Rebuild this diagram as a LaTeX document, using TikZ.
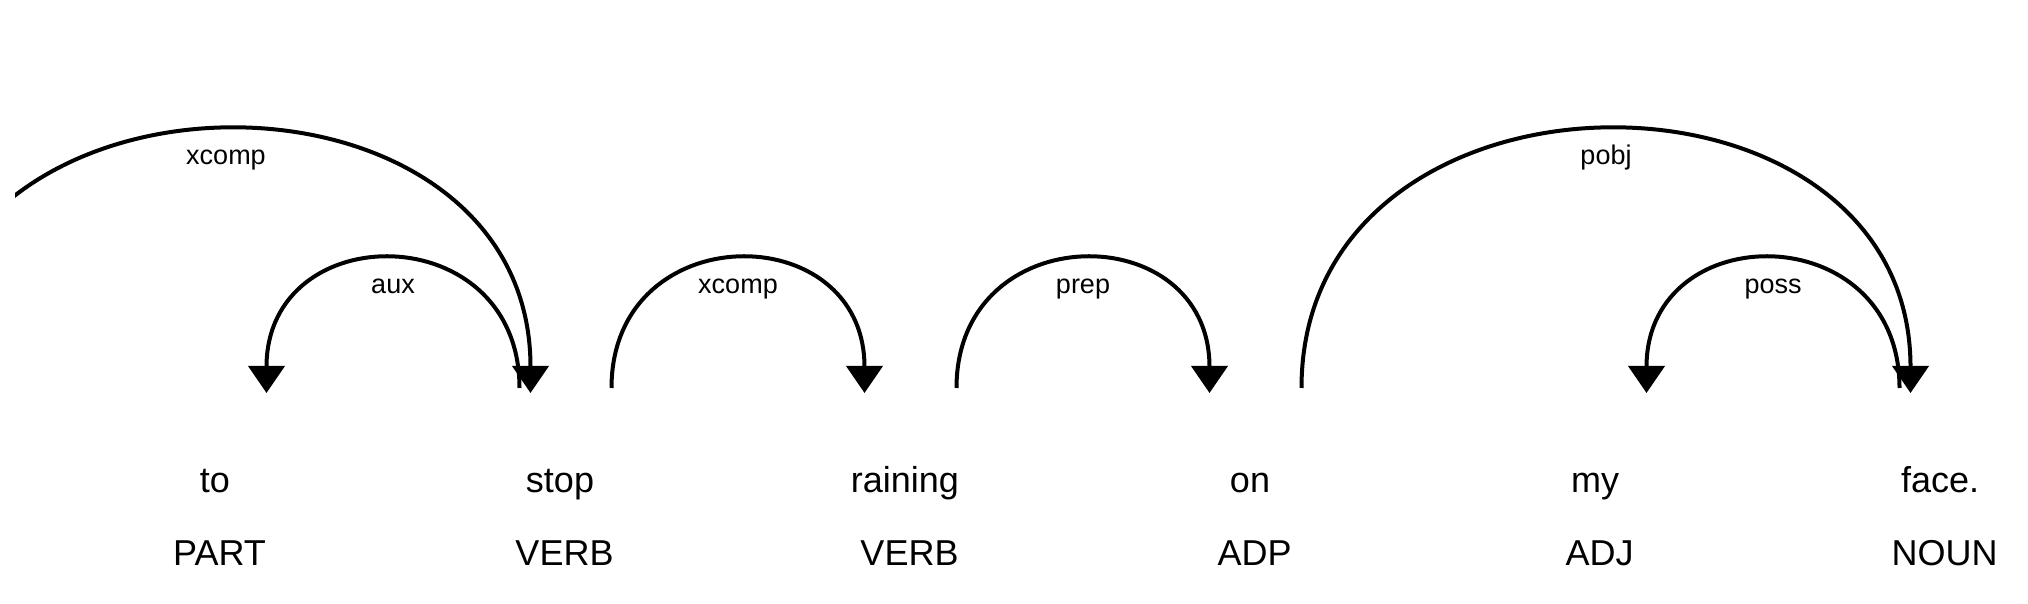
\documentclass[tikz,border=0pt]{standalone}
\usepackage{fontspec}
\setmainfont{Liberation Sans}
\usetikzlibrary{arrows.meta}
\usetikzlibrary{positioning}

\tikzset{
  word/.style={font=\fontsize{18}{21}\selectfont, inner sep=0pt, anchor=base},
  tag/.style={font=\fontsize{18}{21}\selectfont, inner sep=0pt, anchor=base},
  dep/.style={line width=2pt, -{Triangle[width=18pt,length=13.5pt]}},
  lbl/.style={font=\fontsize{13.5}{16}\selectfont, inner sep=0pt, anchor=base, pos=0.5, yshift=-17pt}
}

\begin{document}
\begin{tikzpicture}[x=0.5pt, y=0.5pt]
\useasboundingbox (0,0) rectangle (2028,604);
\node[tag] (t1) at (219.5,38) {PART};
\node[tag] (t2) at (564.5,38) {VERB};
\node[tag] (t3) at (909.5,38) {VERB};
\node[tag] (t4) at (1254.5,38) {ADP};
\node[tag] (t5) at (1599.5,38) {ADJ};
\node[tag] (t6) at (1944.5,38) {NOUN};
\node[word, above=36.5pt of t1.base, anchor=base, xshift=-2.25pt] (w1) {to};
\node[word, above=36.5pt of t2.base, anchor=base, xshift=-2.25pt] (w2) {stop};
\node[word, above=36.5pt of t3.base, anchor=base, xshift=-2.25pt] (w3) {raining};
\node[word, above=36.5pt of t4.base, anchor=base, xshift=-2.25pt] (w4) {on};
\node[word, above=36.5pt of t5.base, anchor=base, xshift=-2.25pt] (w5) {my};
\node[word, above=36.5pt of t6.base, anchor=base, xshift=-2.25pt] (w6) {face.};
\coordinate (b1) at ([yshift=89pt]t1.base);
\coordinate (b2) at ([yshift=89pt]t2.base);
\coordinate (b3) at ([yshift=89pt]t3.base);
\coordinate (b4) at ([yshift=89pt]t4.base);
\coordinate (b5) at ([yshift=89pt]t5.base);
\coordinate (b6) at ([yshift=89pt]t6.base);
\coordinate (b0) at ([xshift=-172.5pt]b1);
\begin{scope}
\clip (15,0) rectangle (2028,604);
\draw[dep] ([xshift=23.5pt]b0) .. controls +(0,344) and +(0,349) .. ([xshift=-17pt,yshift=-2.5pt]b2) node[lbl] {xcomp};
\end{scope}
\draw[dep] ([xshift=-22.5pt]b2) .. controls +(0,172) and +(0,177) .. ([xshift=23.5pt,yshift=-2.5pt]b1) node[lbl] {aux};
\draw[dep] ([xshift=23.5pt]b2) .. controls +(0,172) and +(0,177) .. ([xshift=-22.5pt,yshift=-2.5pt]b3) node[lbl] {xcomp};
\draw[dep] ([xshift=23.5pt]b3) .. controls +(0,172) and +(0,177) .. ([xshift=-22.5pt,yshift=-2.5pt]b4) node[lbl] {prep};
\draw[dep] ([xshift=23.5pt]b4) .. controls +(0,344) and +(0,349) .. ([xshift=-17pt,yshift=-2.5pt]b6) node[lbl] {pobj};
\draw[dep] ([xshift=-22.5pt]b6) .. controls +(0,172) and +(0,177) .. ([xshift=23.5pt,yshift=-2.5pt]b5) node[lbl] {poss};
\end{tikzpicture}
\end{document}
